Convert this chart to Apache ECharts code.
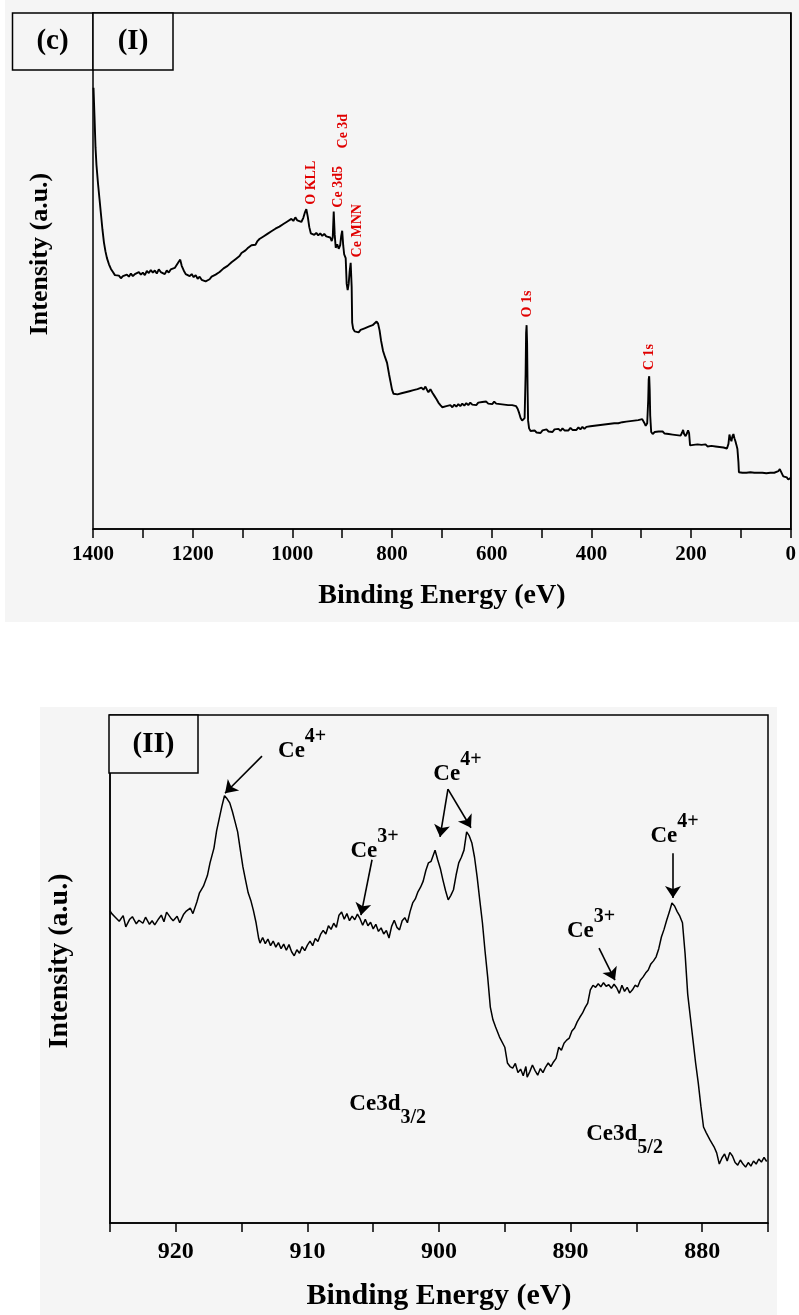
<!DOCTYPE html>
<html>
<head>
<meta charset="utf-8">
<script src="https://cdn.jsdelivr.net/npm/echarts@6/dist/echarts.min.js"></script>
<style>html,body{margin:0;padding:0;background:#fff;}#c{width:799px;height:1315px;}</style>
</head>
<body>
<div id="c"></div>
<script>
// ---------- Panel (I): survey spectrum [binding energy eV, intensity a.u.] ----------
var surveyData = [
[1399,85.5],[1397,80.0],[1395,74.0],[1393,70.5],[1390,67.0],[1387,64.0],[1384,61.0],[1381,58.0],[1378,55.5],[1375,53.8],
[1372,52.5],[1368,51.3],[1364,50.4],[1360,49.8],[1356,49.2],[1352,48.9],[1348,49.1],[1344,48.6],[1340,49.0],[1336,48.7],
[1332,49.3],[1328,48.9],[1324,49.5],[1320,49.0],[1316,49.4],[1312,49.1],[1308,49.8],[1304,49.3],[1300,49.7],[1296,49.2],
[1292,50.0],[1288,49.6],[1284,50.2],[1280,49.7],[1276,50.1],[1272,49.5],[1268,50.3],[1264,49.8],[1260,50.0],[1256,49.4],
[1252,50.1],[1248,49.7],[1244,50.3],[1240,50.0],[1236,50.6],[1232,50.9],[1228,51.8],[1225,52.2],[1222,51.0],[1218,50.1],
[1214,49.4],[1210,49.7],[1206,49.0],[1202,49.4],[1198,48.8],[1194,49.2],[1190,48.5],[1186,48.9],[1182,48.3],[1178,48.6],
[1174,48.0],[1170,47.8],[1166,48.4],[1162,48.9],[1158,48.6],[1154,49.3],[1150,49.1],[1146,49.8],[1142,50.0],[1138,50.5],
[1134,50.3],[1130,51.0],[1126,51.2],[1122,51.7],[1118,51.5],[1114,52.3],[1110,52.6],[1106,52.9],[1102,53.5],[1098,53.3],
[1094,54.0],[1090,54.4],[1086,54.2],[1082,55.0],[1078,55.3],[1074,55.1],[1070,55.8],[1066,56.2],[1062,56.0],[1058,56.7],
[1054,56.5],[1050,57.2],[1046,57.0],[1042,57.7],[1038,57.5],[1034,58.2],[1030,57.9],[1026,58.6],[1022,58.4],[1018,59.1],
[1014,58.8],[1010,59.6],[1006,59.3],[1002,60.1],[998,59.7],[994,60.4],[990,59.8],[986,60.0],[982,59.5],[978,60.3],
[975,61.3],[972,62.0],[969,60.5],[966,58.5],[963,57.3],[960,57.6],[956,57.0],[952,57.4],[948,56.9],[944,57.3],
[940,56.8],[936,57.2],[932,56.7],[928,57.0],[924,56.5],[921,55.8],[919,56.5],[917,61.5],[915,57.0],[913,54.5],
[910,55.2],[907,54.3],[904,55.0],[902,56.8],[900,57.8],[898,55.0],[896,53.2],[893,52.5],[891,47.5],[889,46.3],
[887,47.5],[885,50.0],[883,51.6],[881,47.0],[880,40.0],[878,38.8],[875,38.3],[871,38.6],[867,38.1],[863,38.6],
[859,38.3],[855,38.9],[851,38.6],[847,39.2],[843,39.0],[839,39.5],[835,39.6],[831,40.2],[828,39.8],[825,38.5],
[822,36.5],[818,34.5],[814,33.3],[810,32.2],[806,30.0],[803,28.5],[800,27.0],[797,26.2],[793,25.9],[789,26.1],
[785,25.8],[781,26.3],[777,26.0],[773,26.5],[769,26.2],[765,26.7],[761,26.4],[757,26.9],[753,26.6],[749,27.1],
[745,26.8],[741,27.4],[737,27.0],[733,27.6],[730,27.0],[727,26.5],[723,27.1],[719,26.4],[715,25.8],[711,25.2],
[707,24.5],[703,24.0],[699,23.6],[695,23.4],[691,23.8],[687,23.5],[683,24.0],[679,23.6],[675,24.1],[671,23.7],
[667,24.2],[663,23.8],[659,24.3],[655,23.9],[651,24.4],[647,24.0],[643,24.5],[639,24.1],[635,24.4],[631,24.0],
[627,24.5],[623,24.2],[619,24.6],[615,24.3],[611,24.7],[607,24.3],[603,24.6],[599,24.2],[595,24.7],[591,24.3],
[587,24.6],[583,24.2],[579,24.5],[575,24.1],[571,24.4],[567,24.0],[563,24.3],[559,24.0],[555,24.2],[551,23.8],
[548,23.3],[545,22.5],[542,21.5],[539,21.0],[536,20.7],[534,21.5],[532,30.0],[531,38.0],[530,39.5],[529,36.0],
[528,27.0],[527,21.0],[525,19.5],[522,19.0],[518,18.8],[514,19.1],[510,18.7],[506,19.0],[502,18.6],[498,19.1],
[494,18.8],[490,19.3],[486,18.9],[482,19.2],[478,18.8],[474,19.3],[470,19.0],[466,19.4],[462,19.0],[458,19.5],
[454,19.1],[450,19.4],[446,19.1],[442,19.6],[438,19.2],[434,19.5],[430,19.2],[426,19.7],[422,19.3],[418,19.8],
[414,19.4],[410,19.8],[406,19.5],[402,19.9],[398,19.6],[394,20.0],[390,19.7],[386,20.1],[382,19.8],[378,20.2],
[374,19.9],[370,20.3],[366,20.0],[362,20.4],[358,20.1],[354,20.5],[350,20.2],[346,20.5],[342,20.3],[338,20.7],
[334,20.4],[330,20.8],[326,20.5],[322,20.9],[318,20.6],[314,21.0],[310,20.7],[306,21.1],[302,20.8],[298,21.3],
[294,20.6],[291,20.0],[288,20.5],[286,25.0],[285,29.0],[284,29.6],[283,27.0],[282,22.0],[280,18.8],[277,18.4],
[273,18.8],[269,18.5],[265,18.9],[261,18.6],[257,18.9],[253,18.5],[249,18.8],[245,18.4],[241,18.7],[237,18.3],
[233,18.6],[229,18.2],[225,18.5],[221,18.1],[218,18.7],[216,19.2],[214,18.4],[211,18.0],[208,18.6],[206,19.1],
[204,18.6],[202,16.2],[199,15.9],[195,16.3],[191,16.0],[187,16.4],[183,16.1],[179,16.3],[175,16.0],[171,16.4],
[167,16.0],[163,16.3],[159,16.1],[155,16.4],[151,16.0],[147,16.2],[143,15.9],[139,16.2],[135,15.8],[131,16.0],
[128,15.6],[125,16.5],[123,18.3],[121,17.5],[119,17.0],[117,18.0],[115,18.4],[113,17.6],[111,17.0],[109,16.3],
[107,15.5],[105,13.0],[104,11.0],[101,10.7],[97,10.9],[93,10.6],[89,10.9],[85,10.7],[81,11.0],[77,10.7],
[73,10.9],[69,10.6],[65,10.9],[61,10.7],[57,10.9],[53,10.6],[49,10.8],[45,10.6],[41,10.9],[37,10.7],
[33,10.9],[29,10.8],[25,11.2],[22,11.6],[20,11.8],[18,11.3],[15,10.2],[12,9.9],[8,10.0],[5,9.6],[2,9.7],[0,9.9]
];
// peak labels: [text, eV, intensity position]
var surveyPeaks = [
['O KLL',962,67.1],['Ce 3d5',908,66.3],['Ce 3d',898,77.1],['Ce MNN',870,57.8],['O 1s',528,43.6],['C 1s',284,33.3]
];
var surveyTicks = [1400,1200,1000,800,600,400,200,0];

// ---------- Panel (II): Ce 3d spectrum ----------
var ce3dData = [
[925.0,61.5],[924.9,61.0],[924.6,60.2],[924.3,59.4],[924.0,60.5],[923.8,58.3],[923.5,59.8],[923.3,60.3],[923.0,58.9],[922.8,59.6],
[922.5,59.0],[922.3,60.2],[922.0,58.8],[921.8,59.5],[921.6,58.7],[921.3,59.9],[921.1,60.6],[920.9,59.3],[920.7,61.2],[920.4,60.1],
[920.2,59.5],[919.9,60.4],[919.7,59.1],[919.4,60.8],[919.2,61.4],[918.9,62.0],[918.7,60.9],[918.4,63.2],[918.2,65.0],[917.9,66.3],
[917.6,68.4],[917.4,70.9],[917.1,73.8],[916.9,77.2],[916.7,79.6],[916.5,82.0],[916.3,84.1],[916.1,83.5],[915.9,82.7],[915.7,81.0],
[915.5,79.0],[915.3,77.0],[915.1,73.5],[914.9,70.1],[914.7,67.5],[914.5,65.0],[914.3,63.5],[914.1,61.5],[913.9,59.1],[913.7,56.0],
[913.6,55.1],[913.4,56.2],[913.2,55.0],[913.0,55.9],[912.8,54.6],[912.6,55.5],[912.4,54.3],[912.2,55.2],[912.0,54.0],[911.8,54.9],
[911.6,53.7],[911.4,54.8],[911.2,53.4],[911.0,52.6],[910.8,53.8],[910.6,53.1],[910.4,54.4],[910.2,53.6],[910.0,54.7],[909.8,55.5],
[909.6,54.6],[909.4,56.0],[909.2,55.4],[909.0,56.8],[908.8,57.6],[908.6,56.9],[908.4,58.5],[908.2,57.8],[908.0,59.0],[907.8,58.2],
[907.6,60.6],[907.4,61.2],[907.2,59.8],[907.0,60.9],[906.8,59.5],[906.6,60.4],[906.4,59.7],[906.2,60.8],[906.0,59.9],[905.8,58.6],
[905.6,59.8],[905.4,58.5],[905.2,59.2],[905.0,57.9],[904.8,58.8],[904.6,57.4],[904.4,58.1],[904.2,56.9],[904.0,57.6],[903.8,56.1],
[903.6,58.4],[903.4,59.6],[903.2,58.2],[903.0,57.7],[902.8,59.5],[902.6,60.1],[902.4,59.1],[902.2,61.3],[902.0,63.0],[901.8,63.8],
[901.6,65.2],[901.4,66.1],[901.2,67.3],[901.0,69.4],[900.8,70.9],[900.6,71.2],[900.5,71.5],[900.3,73.4],[900.1,71.5],[899.9,69.8],
[899.7,67.5],[899.5,65.4],[899.3,63.6],[899.1,64.5],[898.9,65.6],[898.7,68.5],[898.5,70.9],[898.3,72.0],[898.1,73.4],[897.9,77.0],
[897.7,76.2],[897.5,74.8],[897.3,72.0],[897.1,68.1],[896.9,63.5],[896.7,59.1],[896.5,53.5],[896.3,48.4],[896.1,42.5],[895.9,40.0],
[895.7,38.6],[895.4,36.6],[895.0,34.6],[894.8,31.5],[894.6,30.8],[894.4,30.5],[894.2,31.4],[894.0,29.6],[893.8,30.3],[893.6,29.0],
[893.4,30.8],[893.3,28.7],[893.1,29.8],[892.9,31.1],[892.7,30.0],[892.5,29.1],[892.3,30.4],[892.1,29.6],[891.9,30.7],[891.7,31.5],
[891.5,30.8],[891.3,31.7],[891.1,32.4],[890.9,34.6],[890.7,34.0],[890.5,35.4],[890.3,36.0],[890.1,36.4],[889.9,37.8],[889.7,38.4],
[889.5,39.6],[889.3,40.5],[889.1,41.3],[888.9,42.4],[888.7,43.3],[888.5,45.9],[888.3,46.8],[888.1,46.4],[887.9,47.1],[887.7,46.5],
[887.5,47.3],[887.3,46.6],[887.1,46.9],[886.9,46.2],[886.7,47.0],[886.5,46.3],[886.3,45.2],[886.1,46.8],[885.9,45.6],[885.7,46.4],
[885.5,45.3],[885.3,45.9],[885.1,46.8],[884.9,46.5],[884.7,47.8],[884.5,48.4],[884.3,49.2],[884.1,49.8],[883.9,51.0],[883.7,51.6],
[883.5,52.4],[883.3,54.0],[883.1,56.3],[882.9,57.8],[882.7,59.6],[882.5,61.2],[882.3,63.0],[882.1,62.4],[881.9,61.3],[881.7,60.4],
[881.5,59.1],[881.3,53.0],[881.1,45.0],[880.9,40.5],[880.7,36.0],[880.5,31.5],[880.3,27.6],[880.1,23.0],[879.9,18.9],[879.7,17.8],
[879.4,16.3],[879.1,15.0],[878.9,13.8],[878.7,11.6],[878.5,12.8],[878.3,13.6],[878.1,12.2],[877.9,13.9],[877.7,13.2],[877.5,11.9],
[877.3,11.4],[877.1,12.4],[876.9,11.6],[876.7,11.0],[876.5,11.9],[876.3,11.2],[876.1,12.2],[875.9,11.6],[875.7,12.6],[875.5,12.0],
[875.3,12.9],[875.1,12.1]
];
// oxidation-state labels: [main, superscript, eV, intensity]
var ceStateLabels = [
['Ce','4+',910.4,94.1],['Ce','3+',904.9,74.4],['Ce','4+',898.6,89.6],['Ce','4+',882.1,77.4],['Ce','3+',888.45,58.7]
];
// arrows: [fromEV, fromI, toEV, toI]
var ceArrows = [
[913.45,91.9,916.26,84.6],[905.09,71.5,905.93,60.6],[899.32,85.4,899.92,76.0],[899.32,85.4,897.57,77.8],
[882.22,72.8,882.22,64.0],[887.84,54.1,886.63,47.8]
];
// spin-orbit labels: [main, subscript, eV, intensity]
var ceOrbitLabels = [['Ce3d','3/2',903.9,22.2],['Ce3d','5/2',885.9,16.3]];
var ceTicks = [920,910,900,890,880];

var FONT = '"Liberation Serif","Times New Roman",serif';
var chart = echarts.init(document.getElementById('c'), null, {renderer:'canvas'});

function xAxisCommon(grid, min, max, interval, labelTicks, fs, margin, nameFs, nameGap){
  return {
    gridIndex: grid, type:'value', min:min, max:max, interval:interval, inverse:true,
    axisLine:{show:true, lineStyle:{color:'#000', width:1.5}},
    axisTick:{show:true, length:9, lineStyle:{color:'#000', width:1.5}},
    splitLine:{show:false},
    axisLabel:{color:'#000', fontFamily:FONT, fontWeight:'bold', fontSize:fs, margin:margin,
      formatter:function(v){ return labelTicks.indexOf(v) >= 0 ? String(v) : ''; }},
    name:'Binding Energy (eV)', nameLocation:'middle', nameGap:nameGap,
    nameTextStyle:{color:'#000', fontFamily:FONT, fontWeight:'bold', fontSize:nameFs}
  };
}
function yAxisCommon(grid){
  return {gridIndex:grid, type:'value', min:0, max:100,
    axisLine:{show:true, lineStyle:{color:'#000', width:1.5}},
    axisTick:{show:false}, axisLabel:{show:false}, splitLine:{show:false}};
}
var richSup = {
  a:{color:'#000', fontFamily:FONT, fontWeight:'bold', fontSize:23, lineHeight:36, verticalAlign:'bottom', textBorderWidth:0},
  b:{color:'#000', fontFamily:FONT, fontWeight:'bold', fontSize:20, lineHeight:18, verticalAlign:'top', textBorderWidth:0}
};
var richSub = {
  a:{color:'#000', fontFamily:FONT, fontWeight:'bold', fontSize:23, lineHeight:36, verticalAlign:'top', textBorderWidth:0},
  b:{color:'#000', fontFamily:FONT, fontWeight:'bold', fontSize:20, lineHeight:18, verticalAlign:'bottom', textBorderWidth:0}
};

var option = {
  animation:false,
  backgroundColor:'#ffffff',
  grid:[
    {left:93, top:13, width:699, height:516, show:true, borderColor:'#000', borderWidth:1.5, backgroundColor:'#f5f5f5'},
    {left:110, top:715, width:658, height:508, show:true, borderColor:'#000', borderWidth:1.5, backgroundColor:'#f5f5f5'}
  ],
  xAxis:[
    xAxisCommon(0, 0, 1400, 100, surveyTicks, 21, 15, 28, 53),
    xAxisCommon(1, 875, 925, 5, ceTicks, 24, 17, 30, 58)
  ],
  yAxis:[yAxisCommon(0), yAxisCommon(1)],
  graphic:[
    {type:'rect', z:-100, shape:{x:5, y:0, width:794, height:622}, style:{fill:'#f5f5f5'}},
    {type:'rect', z:-100, shape:{x:40, y:707, width:737, height:608}, style:{fill:'#f5f5f5'}},
    {type:'rect', z:100, shape:{x:12.5, y:13, width:80.5, height:57}, style:{fill:'#f5f5f5', stroke:'#000', lineWidth:1.5}},
    {type:'rect', z:100, shape:{x:93, y:13, width:80, height:57}, style:{fill:'#f5f5f5', stroke:'#000', lineWidth:1.5}},
    {type:'text', z:101, x:52.5, y:42, style:{text:'(c)', font:'bold 29px '+FONT, fill:'#000', textAlign:'center', textVerticalAlign:'middle'}},
    {type:'text', z:101, x:133, y:42, style:{text:'(I)', font:'bold 29px '+FONT, fill:'#000', textAlign:'center', textVerticalAlign:'middle'}},
    {type:'rect', z:100, shape:{x:109, y:715, width:89, height:58}, style:{fill:'#f5f5f5', stroke:'#000', lineWidth:1.5}},
    {type:'text', z:101, x:153.5, y:745, style:{text:'(II)', font:'bold 29px '+FONT, fill:'#000', textAlign:'center', textVerticalAlign:'middle'}},
    {type:'text', z:101, x:40, y:254, rotation:Math.PI/2, style:{text:'Intensity (a.u.)', font:'bold 26px '+FONT, fill:'#000', textAlign:'center', textVerticalAlign:'middle'}},
    {type:'text', z:101, x:60, y:961, rotation:Math.PI/2, style:{text:'Intensity (a.u.)', font:'bold 28px '+FONT, fill:'#000', textAlign:'center', textVerticalAlign:'middle'}}
  ],
  series:[
    {type:'line', xAxisIndex:0, yAxisIndex:0, data:surveyData, showSymbol:false, symbol:'none',
     lineStyle:{color:'#000', width:1.9}},
    {type:'scatter', xAxisIndex:0, yAxisIndex:0, symbolSize:0, silent:true, itemStyle:{opacity:1},
     data:surveyPeaks.map(function(p){ return {name:p[0], value:[p[1], p[2]]}; }),
     label:{show:true, position:'inside', rotate:90, formatter:function(p){return p.name;},
       color:'#e00000', fontFamily:FONT, fontWeight:'bold', fontSize:14, textBorderWidth:0}},
    {type:'line', xAxisIndex:1, yAxisIndex:1, data:ce3dData, showSymbol:false, symbol:'none',
     lineStyle:{color:'#000', width:1.5},
     markLine:{silent:true, symbol:['none','arrow'], symbolSize:12, label:{show:false},
       lineStyle:{color:'#000', width:1.6, type:'solid', opacity:1},
       emphasis:{disabled:true},
       data:ceArrows.map(function(a){ return [{coord:[a[0],a[1]]},{coord:[a[2],a[3]]}]; })}},
    {type:'scatter', xAxisIndex:1, yAxisIndex:1, symbolSize:0, silent:true, itemStyle:{opacity:1},
     data:ceStateLabels.map(function(p){ return {name:'{a|'+p[0]+'}{b|'+p[1]+'}', value:[p[2], p[3]]}; }),
     label:{show:true, position:'inside', color:'#000', textBorderWidth:0, formatter:function(p){return p.name;}, rich:richSup}},
    {type:'scatter', xAxisIndex:1, yAxisIndex:1, symbolSize:0, silent:true, itemStyle:{opacity:1},
     data:ceOrbitLabels.map(function(p){ return {name:'{a|'+p[0]+'}{b|'+p[1]+'}', value:[p[2], p[3]]}; }),
     label:{show:true, position:'inside', color:'#000', textBorderWidth:0, formatter:function(p){return p.name;}, rich:richSub}}
  ]
};
chart.setOption(option);
</script>
</body>
</html>
